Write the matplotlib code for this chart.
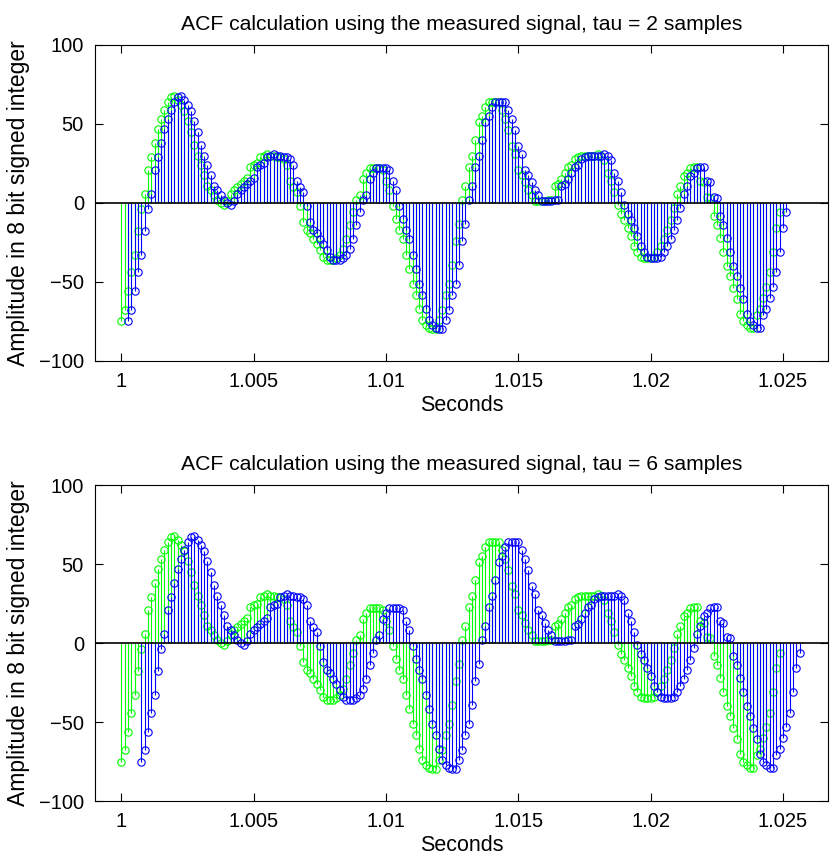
import numpy as np
import matplotlib.pyplot as plt

plt.rcParams['font.family'] = ['Liberation Sans', 'DejaVu Sans']

# measured signal, 8 bit signed integer, sampled at 8 kHz starting at t = 1 s
fs = 8000
t0 = 1.0
signal = [
    -75, -68, -56, -44, -33, -18, -4, 6, 21, 29,
    38, 47, 53, 59, 64, 67, 68, 65, 62, 58,
    52, 45, 37, 30, 24, 18, 11, 8, 5, 2,
    0, -1, 1, 6, 8, 10, 12, 14, 16, 23,
    24, 25, 29, 30, 31, 30, 30, 29, 29, 28,
    24, 14, 10, 7, -2, -12, -17, -19, -23, -26,
    -30, -34, -36, -36, -36, -35, -33, -29, -23, -14,
    -6, 2, 5, 15, 19, 22, 22, 22, 22, 21,
    14, 8, -2, -10, -17, -23, -33, -42, -51, -58,
    -67, -74, -77, -79, -80, -80, -74, -68, -58, -51,
    -39, -24, -13, 2, 11, 23, 30, 40, 51, 55,
    61, 64, 64, 64, 64, 59, 53, 46, 36, 31,
    21, 18, 13, 8, 5, 1, 1, 1, 1, 2,
    2, 11, 12, 15, 19, 23, 24, 28, 29, 30,
    30, 30, 30, 30, 31, 30, 27, 19, 14, 7,
    -1, -7, -11, -16, -21, -27, -31, -34, -35, -35,
    -35, -34, -31, -27, -23, -17, -11, -3, 6, 11,
    17, 19, 22, 23, 23, 14, 13, 4, 3, -8,
    -14, -22, -31, -40, -46, -54, -61, -70, -75, -77,
    -79, -79, -71, -67, -60, -53, -44, -31, -16, -6,
]
taus = [2, 6]

t = t0 + np.arange(len(signal)) / fs
x = np.array(signal)

fig = plt.figure(figsize=(8.3, 8.57), dpi=100)
boxes = [[0.1145, 0.5788, 0.8831, 0.3687], [0.1145, 0.0653, 0.8831, 0.3687]]

for box, tau in zip(boxes, taus):
    ax = fig.add_axes(box)
    for tt, col in [(t, '#00ff00'), (t + tau / fs, '#0000ff')]:
        ml, sl, bl = ax.stem(tt, x, linefmt='-', markerfmt='o', basefmt=' ')
        sl.set_color(col)
        sl.set_linewidth(0.8)
        ml.set_color(col)
        ml.set_markerfacecolor('none')
        ml.set_markersize(5.3)
        ml.set_markeredgewidth(0.8)
    ax.axhline(0, color='k', linewidth=1.2)
    ax.set_xlim(0.999, 1.0267)
    ax.set_ylim(-100, 100)
    ax.set_xticks([1, 1.005, 1.01, 1.015, 1.02, 1.025])
    ax.set_xticklabels(['1', '1.005', '1.01', '1.015', '1.02', '1.025'])
    ax.set_yticks([-100, -50, 0, 50, 100])
    ax.set_yticklabels(['\u2212100', '\u221250', '0', '50', '100'])
    ax.tick_params(direction='in', top=True, right=True, length=6, labelsize=14.5, pad=8)
    ax.set_title(f'ACF calculation using the measured signal, tau = {tau} samples', fontsize=15.2, pad=11)
    ax.set_xlabel('Seconds', fontsize=15.5, labelpad=3)
    ax.set_ylabel('Amplitude in 8 bit signed integer', fontsize=16.5, labelpad=6)

fig.savefig('out.png', dpi=100)
